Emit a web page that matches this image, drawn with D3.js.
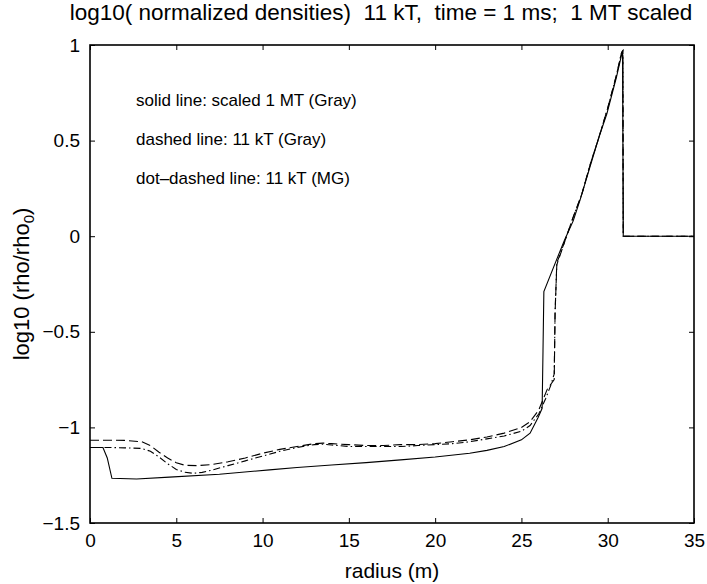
<!DOCTYPE html>
<html>
<head>
<meta charset="utf-8">
<script src="https://cdn.jsdelivr.net/npm/d3@7"></script>
<style>
    body { margin: 0; background: #fff; }
    svg { font-family: "Liberation Sans", Arial, Helvetica, sans-serif; }
</style>
</head>
<body>
<div id="chart"></div>
<script>
// radius (m) and log10(rho/rho0)
const solidR = [0, 0.75, 1.0, 1.27, 2.7, 4.6, 7.5, 10.4, 12, 14, 16, 18, 20, 22, 23, 24, 25, 25.5, 25.96, 26.2, 26.25, 26.3, 27.05, 27.5, 28.0, 28.4, 29.0, 29.5, 29.95, 30.5, 30.86, 30.9, 35];
const solidV = [-1.105, -1.105, -1.16, -1.266, -1.27, -1.26, -1.245, -1.222, -1.21, -1.197, -1.184, -1.17, -1.155, -1.135, -1.12, -1.1, -1.065, -1.03, -0.95, -0.9, -0.6, -0.29, -0.12, -0.02, 0.08, 0.19, 0.37, 0.52, 0.64, 0.83, 0.97, 0, 0];

const dashedR = [0, 1, 2, 3, 3.5, 4, 4.5, 5, 5.5, 6.2, 7, 8, 9, 10, 11, 12, 13, 13.5, 14, 15, 16, 17, 18, 19, 20, 21, 22, 23, 24, 25, 25.5, 26, 26.5, 26.9, 26.95, 27.05, 27.5, 28, 28.5, 29, 29.5, 30, 30.5, 30.8, 30.88, 30.9, 35];
const dashedV = [-1.067, -1.067, -1.068, -1.075, -1.095, -1.13, -1.16, -1.185, -1.198, -1.2, -1.195, -1.18, -1.16, -1.135, -1.115, -1.1, -1.085, -1.082, -1.085, -1.09, -1.095, -1.095, -1.09, -1.09, -1.085, -1.075, -1.065, -1.05, -1.03, -1.0, -0.97, -0.91, -0.8, -0.75, -0.4, -0.15, -0.03, 0.1, 0.22, 0.38, 0.52, 0.67, 0.84, 0.96, 0.97, 0, 0];

const dotDashR = [0, 1, 2, 3, 3.5, 4, 4.5, 5, 5.5, 6, 6.5, 7, 8, 9, 10, 11, 12, 13, 13.5, 14, 15, 16, 17, 18, 19, 20, 21, 22, 23, 24, 25, 25.5, 26, 26.4, 26.7, 26.9, 26.95, 27.05, 27.5, 28, 28.5, 29, 29.5, 30, 30.5, 30.8, 30.88, 30.9, 35];
const dotDashV = [-1.105, -1.105, -1.107, -1.11, -1.125, -1.155, -1.19, -1.22, -1.235, -1.24, -1.235, -1.225, -1.2, -1.175, -1.15, -1.125, -1.105, -1.09, -1.088, -1.092, -1.1, -1.1, -1.1, -1.1, -1.095, -1.09, -1.085, -1.075, -1.06, -1.045, -1.02, -0.99, -0.93, -0.85, -0.78, -0.72, -0.4, -0.14, -0.03, 0.1, 0.22, 0.38, 0.52, 0.67, 0.84, 0.96, 0.97, 0, 0];

const xTicks = [0, 5, 10, 15, 20, 25, 30, 35];
const yTicks = [-1.5, -1, -0.5, 0, 0.5, 1];
const notes = ['solid line: scaled 1 MT (Gray)', 'dashed line: 11 kT (Gray)', 'dot\u2013dashed line: 11 kT (MG)'];

const W = 707, H = 584;
const margin = { top: 45, right: 13, bottom: 61, left: 90 };
const width = W - margin.left - margin.right;
const height = H - margin.top - margin.bottom;

const svg = d3.select('#chart').append('svg')
    .attr('width', W)
    .attr('height', H);

const g = svg.append('g')
    .attr('transform', `translate(${margin.left},${margin.top})`);

const x = d3.scaleLinear().domain([0, 35]).range([0, width]);
const y = d3.scaleLinear().domain([-1.5, 1]).range([height, 0]);

const fmt = d => String(d).replace('-', '\u2212');

// axes, ticks pointing inward like matlab
g.append('g')
    .attr('transform', `translate(0,${height})`)
    .call(d3.axisBottom(x).tickValues(xTicks).tickSizeInner(-5).tickSizeOuter(0).tickPadding(11).tickFormat(fmt));
g.append('g')
    .call(d3.axisTop(x).tickValues(xTicks).tickSizeInner(-5).tickSizeOuter(0).tickFormat(''));
g.append('g')
    .call(d3.axisLeft(y).tickValues(yTicks).tickSizeInner(-5).tickSizeOuter(0).tickPadding(10).tickFormat(fmt));
g.append('g')
    .attr('transform', `translate(${width},0)`)
    .call(d3.axisRight(y).tickValues(yTicks).tickSizeInner(-5).tickSizeOuter(0).tickFormat(''));

g.selectAll('.domain').remove();
g.selectAll('.tick line').attr('stroke', '#000').attr('stroke-width', 1);
g.selectAll('.tick text').attr('fill', '#000').style('font-size', '19px');

g.append('rect')
    .attr('width', width)
    .attr('height', height)
    .attr('fill', 'none')
    .attr('stroke', '#000')
    .attr('stroke-width', 1.6);

const line = d3.line()
    .x(d => x(d[0]))
    .y(d => y(d[1]));

const series = [
    { r: solidR, v: solidV, dash: null },
    { r: dashedR, v: dashedV, dash: '9,4' },
    { r: dotDashR, v: dotDashV, dash: '7,3,1.5,3' }
];

series.forEach(s => {
    g.append('path')
        .datum(s.r.map((r, i) => [r, s.v[i]]))
        .attr('d', line)
        .attr('fill', 'none')
        .attr('stroke', '#000')
        .attr('stroke-width', 1.1)
        .attr('stroke-dasharray', s.dash);
});

// annotations
g.selectAll('.note')
    .data(notes)
    .enter()
    .append('text')
    .attr('class', 'note')
    .attr('x', 46)
    .attr('y', (d, i) => 61 + i * 39)
    .style('font-size', '17px')
    .text(d => d);

// title and axis labels
svg.append('text')
    .attr('x', 381)
    .attr('y', 20)
    .attr('text-anchor', 'middle')
    .style('font-size', '22.5px')
    .style('white-space', 'pre')
    .text('log10( normalized densities)  11 kT,  time = 1 ms;  1 MT scaled');

svg.append('text')
    .attr('x', margin.left + width / 2)
    .attr('y', 578)
    .attr('text-anchor', 'middle')
    .style('font-size', '21px')
    .text('radius (m)');

const yl = svg.append('text')
    .attr('transform', `translate(29,${margin.top + height / 2}) rotate(-90)`)
    .attr('text-anchor', 'middle')
    .style('font-size', '22px');
yl.append('tspan').text('log10 (rho/rho');
yl.append('tspan').attr('dy', 5).style('font-size', '15px').text('0');
yl.append('tspan').attr('dy', -5).text(')');
</script>
</body>
</html>
